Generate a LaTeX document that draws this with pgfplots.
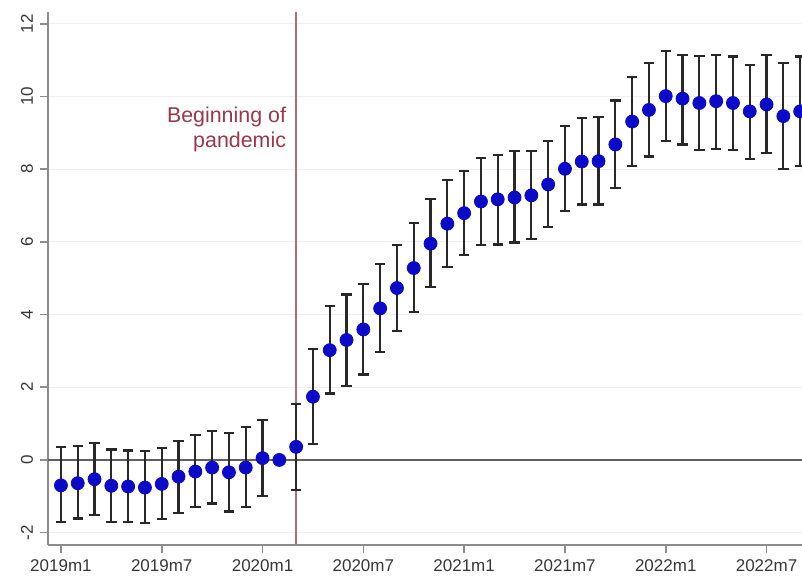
\documentclass[border=0pt]{standalone}
\usepackage{pgfplots}
\usepackage{pgfplotstable}
\pgfplotsset{compat=1.18}
\usepackage{fontspec}
\setmainfont{Liberation Sans}

\definecolor{axisgray}{RGB}{140,140,140}
\definecolor{zerogray}{RGB}{95,95,95}
\definecolor{gridgray}{RGB}{238,238,238}
\definecolor{markblue}{RGB}{10,10,200}
\definecolor{barblack}{RGB}{40,40,40}
\definecolor{eventline}{RGB}{165,115,115}
\definecolor{eventtext}{RGB}{155,55,70}
\definecolor{ticktext}{RGB}{55,55,55}

% month index (0 = 2019m1), point estimate, lower and upper bound of the 95% CI
\pgfplotstableread{
m  y      lo     hi
0  -0.70  -1.71  0.35
1  -0.64  -1.61  0.38
2  -0.53  -1.51  0.46
3  -0.71  -1.71  0.29
4  -0.73  -1.71  0.26
5  -0.76  -1.74  0.24
6  -0.66  -1.63  0.33
7  -0.46  -1.45  0.53
8  -0.32  -1.29  0.68
9  -0.21  -1.20  0.79
10 -0.34  -1.42  0.75
11 -0.21  -1.29  0.90
12  0.05  -0.99  1.10
13  0.00   0.00  0.00
14  0.36  -0.83  1.53
15  1.74   0.43  3.05
16  3.02   1.83  4.23
17  3.30   2.03  4.55
18  3.59   2.35  4.85
19  4.17   2.96  5.40
20  4.73   3.54  5.92
21  5.28   4.08  6.52
22  5.95   4.76  7.18
23  6.50   5.31  7.71
24  6.79   5.63  7.95
25  7.11   5.91  8.30
26  7.17   5.93  8.40
27  7.22   5.98  8.50
28  7.28   6.08  8.51
29  7.58   6.41  8.78
30  8.01   6.84  9.18
31  8.21   7.03  9.41
32  8.22   7.03  9.43
33  8.68   7.48  9.89
34  9.31   8.09  10.53
35  9.63   8.35  10.92
36  10.01  8.77  11.26
37  9.94   8.68  11.15
38  9.82   8.52  11.11
39  9.87   8.56  11.15
40  9.82   8.52  11.10
41  9.59   8.29  10.87
42  9.78   8.44  11.13
43  9.46   8.00  10.93
44  9.59   8.08  11.10
}\estimates

\begin{document}
\begin{tikzpicture}
\begin{axis}[
  at={(24pt,18pt)}, anchor=south west,
  scale only axis,
  width=377pt, height=266.6pt,
  xmin=-0.77, xmax=44.11,
  ymin=-2.34, ymax=12.33,
  axis lines*=left,
  axis line style={axisgray, line width=1pt},
  tick align=outside,
  major tick length=4pt,
  tick style={axisgray, line width=0.8pt},
  xtick={0,6,...,42},
  xticklabels={2019m1,2019m7,2020m1,2020m7,2021m1,2021m7,2022m1,2022m7},
  ytick={-2,0,...,12},
  ymajorgrids,
  grid style={gridgray, line width=0.6pt},
  /pgf/number format/assume math mode=true,
  tick label style={font=\fontsize{8.5}{10}\selectfont, text=ticktext},
  yticklabel style={rotate=90, anchor=south},
  clip=true,
]
  % reference line at zero
  \addplot[zerogray, line width=1.2pt, forget plot] coordinates {(-0.77,0) (44.11,0)};
  % start of the pandemic, 2020m3
  \addplot[eventline, line width=1pt, forget plot] coordinates {(14,-2.34) (14,12.33)};
  \node[anchor=north east, align=right, text=eventtext,
        font=\fontsize{10.7}{12.5}\selectfont, inner sep=0pt]
        at (axis cs:13.42,9.72) {Beginning of\\pandemic};
  % confidence intervals (2020m2 is the reference month, no interval)
  \addplot[only marks, mark=none, forget plot,
    skip coords between index={13}{14},
    error bars/.cd, y dir=both, y explicit,
    error bar style={barblack, line width=1.1pt},
    error mark options={rotate=90, mark size=2.6pt, barblack, line width=1.1pt}]
    table[x=m, y=y,
          y error plus expr=\thisrow{hi}-\thisrow{y},
          y error minus expr=\thisrow{y}-\thisrow{lo}] {\estimates};
  % point estimates
  \addplot[only marks, mark=*, mark size=3.25pt,
    mark options={fill=markblue, draw=markblue}]
    table[x=m, y=y] {\estimates};
\end{axis}
\pgfresetboundingbox
\path (0,0) rectangle (401pt,290.5pt);
\end{tikzpicture}
\end{document}
